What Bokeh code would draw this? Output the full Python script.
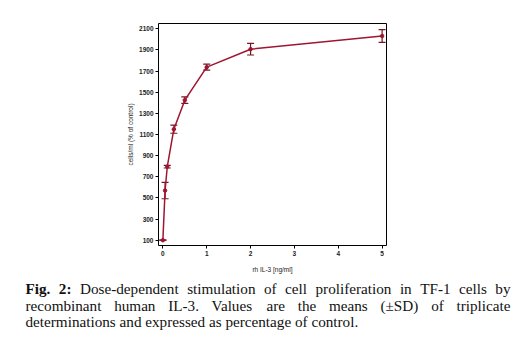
from bokeh.plotting import figure
from bokeh.layouts import column, row
from bokeh.models import ColumnDataSource, Whisker, TeeHead, Label, Range1d, FixedTicker
from bokeh.embed import file_html
from bokeh.resources import INLINE

# data
dose = [0, 0.05, 0.1, 0.25, 0.5, 1, 2, 5]
cells = [100, 570, 795, 1150, 1425, 1737, 1907, 2032]
sd = [0, 78, 12, 38, 30, 28, 55, 60]
y_ticks = [100, 300, 500, 700, 900, 1100, 1300, 1500, 1700, 1900, 2100]
x_ticks = [0, 1, 2, 3, 4, 5]

caption_line1 = "Fig. 2: Dose-dependent stimulation of cell proliferation in TF-1 cells by"
caption_line2 = "recombinant human IL-3. Values are the means (±SD) of triplicate"
caption_line3 = "determinations and expressed as percentage of control."

RED = "#9e1530"

src = ColumnDataSource(dict(
    x=dose, y=cells,
    upper=[c + s for c, s in zip(cells, sd)],
    lower=[c - s for c, s in zip(cells, sd)],
))

p = figure(width=521, height=275, output_backend="svg", toolbar_location=None,
           x_range=Range1d(-0.1, 5.1), y_range=Range1d(50, 2150),
           min_border_left=158, min_border_right=135, min_border_top=23, min_border_bottom=25)
p.background_fill_color = "white"
p.border_fill_color = "white"
p.outline_line_color = "black"
p.outline_line_width = 1
p.grid.visible = False

for ax in (p.xaxis[0], p.yaxis[0]):
    ax.axis_line_color = None
    ax.major_tick_line_color = "black"
    ax.major_tick_in = 0
    ax.major_tick_out = 3
    ax.minor_tick_line_color = None
    ax.major_label_text_font = "Liberation Sans"
    ax.major_label_text_font_size = "6.5px"
    ax.major_label_text_font_style = "bold"
    ax.major_label_text_color = "#222222"
    ax.axis_label_text_font = "Liberation Sans"
    ax.axis_label_text_font_size = "6.5px"
    ax.axis_label_text_font_style = "normal"
    ax.axis_label_text_color = "#222222"

p.xaxis.ticker = FixedTicker(ticks=x_ticks)
p.yaxis.ticker = FixedTicker(ticks=y_ticks)
p.xaxis.major_label_standoff = 2
p.yaxis.major_label_standoff = 2
p.xaxis.axis_label = "rh IL-3 [ng/ml]"
p.yaxis.axis_label = "cells/ml (% of control)"
p.xaxis.axis_label_standoff = 7
p.yaxis.axis_label_standoff = 2

p.line("x", "y", source=src, line_color=RED, line_width=1.5)
p.scatter("x", "y", source=src, marker="circle", size=3.5, fill_color=RED, line_color=RED)
w = Whisker(source=src, base="x", upper="upper", lower="lower", dimension="height",
            line_color="#7a1424", line_width=1.2,
            upper_head=TeeHead(size=7, line_color="#7a1424", line_width=1.2),
            lower_head=TeeHead(size=7, line_color="#7a1424", line_width=1.2))
p.add_layout(w)

# ---- caption: justified text, word positions computed from Times metrics ----
TIMES = {' ': 250, '(': 333, ')': 333, '-': 333, '.': 250, ':': 278, '±': 564,
         'A': 722, 'C': 667, 'D': 722, 'F': 556, 'I': 333, 'L': 611, 'S': 556, 'T': 611, 'V': 722,
         'a': 444, 'b': 500, 'c': 444, 'd': 500, 'e': 444, 'f': 333, 'g': 500, 'h': 500, 'i': 278,
         'l': 278, 'm': 778, 'n': 500, 'o': 500, 'p': 500, 'r': 333, 's': 389, 't': 278, 'u': 500,
         'x': 500, 'y': 500}
TIMES_BOLD = {'F': 611, 'i': 278, 'g': 500, '.': 250, ':': 333}
for d in "0123456789":
    TIMES[d] = 500
    TIMES_BOLD[d] = 500

FS = 15.2
X0, X1 = 25, 510

def wwidth(word, bold):
    tab = TIMES_BOLD if bold else TIMES
    return sum(tab.get(ch, 500) for ch in word) / 1000.0 * FS

CH = 67
cap = figure(width=521, height=CH, output_backend="svg", toolbar_location=None,
             x_range=Range1d(0, 1), y_range=Range1d(0, 1),
             min_border=0, x_axis_type=None, y_axis_type=None)
cap.outline_line_color = None
cap.grid.visible = False
cap.background_fill_color = "white"
cap.border_fill_color = "white"

def add_word(txt, x, base, bold=False):
    cap.add_layout(Label(x=x, y=CH - base, x_units="screen", y_units="screen", text=txt,
                         text_font="Liberation Serif", text_font_size=f"{FS}px",
                         text_font_style="bold" if bold else "normal",
                         text_color="#111111", text_baseline="alphabetic", text_align="left"))

def justified(line, base, n_bold=0):
    words = line.split(" ")
    bolds = [i < n_bold for i in range(len(words))]
    widths = [wwidth(wd, b) for wd, b in zip(words, bolds)]
    gap = (X1 - X0 - sum(widths)) / (len(words) - 1)
    x = X0
    for wd, b, wdt in zip(words, bolds, widths):
        add_word(wd, x, base, bold=b)
        x += wdt + gap

justified(caption_line1, 13.0, n_bold=2)
justified(caption_line2, 29.7)
add_word(caption_line3, X0, 46.4)

layout = column(row(p), row(cap), spacing=0)
open("out.html", "w").write(file_html(layout, INLINE))
